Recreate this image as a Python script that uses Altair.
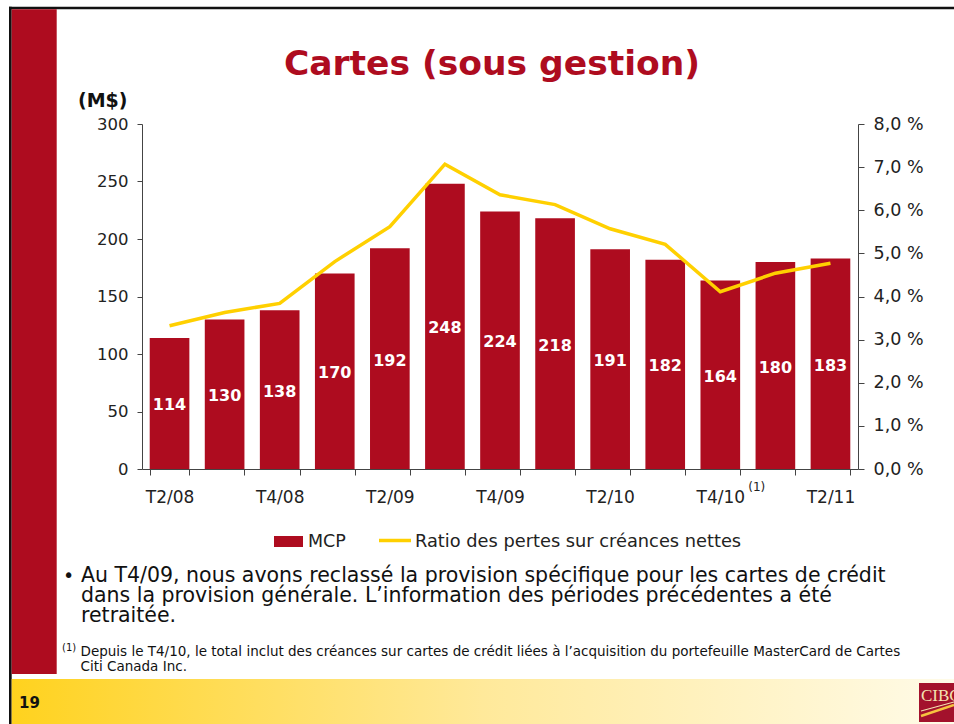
import altair as alt
import pandas as pd

# ---------------- data ----------------
quarters = ["T2/08", "T3/08", "T4/08", "T1/09", "T2/09", "T3/09", "T4/09",
            "T1/10", "T2/10", "T3/10", "T4/10", "T1/11", "T2/11"]
mcp = [114, 130, 138, 170, 192, 248, 224, 218, 191, 182, 164, 180, 183]
ratio = [3.32, 3.63, 3.84, 4.81, 5.62, 7.07, 6.36, 6.13, 5.57, 5.21, 4.11, 4.54, 4.77]
shown_labels = ["T2/08", "T4/08", "T2/09", "T4/09", "T2/10", "T4/10", "T2/11"]
left_ticks = [0, 50, 100, 150, 200, 250, 300]
right_ticks = [0, 1, 2, 3, 4, 5, 6, 7, 8]

title_text = "Cartes (sous gestion)"
unit_text = "(M$)"
legend_bar = "MCP"
legend_line = "Ratio des pertes sur créances nettes"
bullet_lines = [
    "Au T4/09, nous avons reclassé la provision spécifique pour les cartes de crédit",
    "dans la provision générale. L’information des périodes précédentes a été",
    "retraitée.",
]
footnote_lines = [
    "Depuis le T4/10, le total inclut des créances sur cartes de crédit liées à l’acquisition du portefeuille MasterCard de Cartes",
    "Citi Canada Inc.",
]
page_number = "19"

df = pd.DataFrame({"q": quarters, "mcp": mcp, "ratio": ratio})

# ---------------- layout ----------------
FONT = "DejaVu Sans"
RED = "#AE0C1F"
GOLD = "#FFD000"
OX, OY = 142, 124          # plot origin on page
W, H = 716, 345


def px(x):
    return x - OX


def py(y):
    return y - OY


one = pd.DataFrame({"k": [0]})

x_enc = alt.X("q:N", sort=quarters, title=None,
              scale=alt.Scale(paddingInner=0.28),
              axis=alt.Axis(labelAngle=0, tickBand="extent", tickSize=6,
                            labelPadding=14, labelFontSize=17, labelFont=FONT,
                            labelColor="#222222", domainColor="#444444",
                            tickColor="#444444",
                            labelExpr="indexof(" + str(shown_labels) + ", datum.value) >= 0 ? datum.label : ''"))

bars = alt.Chart(df).mark_bar(color=RED).encode(
    x=x_enc,
    y=alt.Y("mcp:Q", title=None,
            scale=alt.Scale(domain=[0, 300]),
            axis=alt.Axis(values=left_ticks, tickSize=5, labelPadding=9,
                          labelFontSize=16.5, labelFont=FONT, labelColor="#222222",
                          domainColor="#444444", tickColor="#444444", grid=False)),
)

bar_labels = alt.Chart(df).transform_calculate(mid="datum.mcp / 2").mark_text(
    color="white", font=FONT, fontWeight="bold", fontSize=16, dy=2
).encode(
    x=alt.X("q:N", sort=quarters),
    y=alt.Y("mid:Q", scale=alt.Scale(domain=[0, 300])),
    text=alt.Text("mcp:Q"),
)

left_layer = alt.layer(bars, bar_labels)

line = alt.Chart(df).mark_line(color=GOLD, strokeWidth=3.5).encode(
    x=alt.X("q:N", sort=quarters),
    y=alt.Y("ratio:Q", title=None,
            scale=alt.Scale(domain=[0, 8]),
            axis=alt.Axis(orient="right", values=right_ticks, tickSize=6,
                          labelPadding=9, labelFontSize=17.5, labelFont=FONT,
                          labelColor="#222222", domainColor="#444444",
                          tickColor="#444444", grid=False,
                          labelExpr="replace(format(datum.value, '.1f'), '.', ',') + ' %'")),
)

superscript = alt.Chart(pd.DataFrame({"q": ["T4/10"]})).mark_text(
    text="(1)", font=FONT, fontSize=12, align="left", baseline="middle",
    color="#222222", dx=28
).encode(x=alt.X("q:N", sort=quarters), y=alt.value(py(487)))


def rect(x1, x2, y1, y2, **kw):
    return alt.Chart(one).mark_rect(**kw).encode(
        x=alt.value(px(x1)), x2=alt.value(px(x2)),
        y=alt.value(py(y1)), y2=alt.value(py(y2)))


def text(x, y, t, **kw):
    return alt.Chart(one).mark_text(**kw).encode(
        x=alt.value(px(x)), y=alt.value(py(y)), text=alt.value(t))


def rule(x1, y1, x2, y2, **kw):
    return alt.Chart(one).mark_rule(**kw).encode(
        x=alt.value(px(x1)), x2=alt.value(px(x2)),
        y=alt.value(py(y1)), y2=alt.value(py(y2)))


gradient = alt.LinearGradient(
    gradient="linear", x1=0, x2=1, y1=0, y2=0,
    stops=[alt.GradientStop(color="#FFD21E", offset=0),
           alt.GradientStop(color="#FFE99A", offset=0.5),
           alt.GradientStop(color="#FFFBE8", offset=1)])

decor = [
    rect(9, 954, 6.7, 9.3, color="#111111"),
    rect(9, 11.7, 6.7, 724, color="#111111"),
    rect(11.7, 56.7, 9.3, 674, color=RED),
    rect(11.7, 954, 679, 724, fill=gradient),
    rect(919, 960, 683, 722, color="#A3122C"),
    text(921, 701, "CIBC", font="Liberation Serif", fontSize=17, color="#F4E3B2",
         align="left", baseline="alphabetic"),
    rule(921, 716, 954, 705, color="#F6C440", strokeWidth=2.5),
    rule(921, 711, 954, 702, color="#F4E3B2", strokeWidth=1.2),
    text(19, 703, page_number, font=FONT, fontSize=15, fontWeight="bold",
         color="#111111", align="left", baseline="middle"),
    text(492, 75, title_text, font=FONT, fontSize=34.5, fontWeight="bold",
         color=RED, align="center", baseline="alphabetic"),
    text(78, 101, unit_text, font=FONT, fontSize=19, fontWeight="bold",
         color="#111111", align="left", baseline="middle"),
    # legend
    rect(274, 303, 536, 547, color=RED),
    text(308, 541.5, legend_bar, font=FONT, fontSize=17.5, color="#222222",
         align="left", baseline="middle"),
    rule(379, 540.5, 411, 540.5, color=GOLD, strokeWidth=3.5),
    text(415, 541.5, legend_line, font=FONT, fontSize=17.8, color="#222222",
         align="left", baseline="middle"),
    # bullet text
    text(63, 582, "•", font=FONT, fontSize=19, color="#111111",
         align="left", baseline="alphabetic"),
    text(81, 582, bullet_lines, font=FONT, fontSize=20.5, lineHeight=20,
         color="#111111", align="left", baseline="alphabetic"),
    # footnote
    text(62, 651, "(1)", font=FONT, fontSize=10, color="#111111",
         align="left", baseline="alphabetic"),
    text(80.5, 656, footnote_lines, font=FONT, fontSize=13.5, lineHeight=14.5,
         color="#111111", align="left", baseline="alphabetic"),
]

chart = alt.layer(*decor, left_layer, line, superscript).resolve_scale(
    y="independent"
).properties(
    width=W, height=H,
    padding={"left": OX, "top": OY, "right": 954 - OX - W, "bottom": 724 - OY - H},
    autosize=alt.AutoSizeParams(type="none"),
    background="white",
).configure_view(stroke=None)

chart.save("out.html", embed_options={"renderer": "svg", "actions": False})
